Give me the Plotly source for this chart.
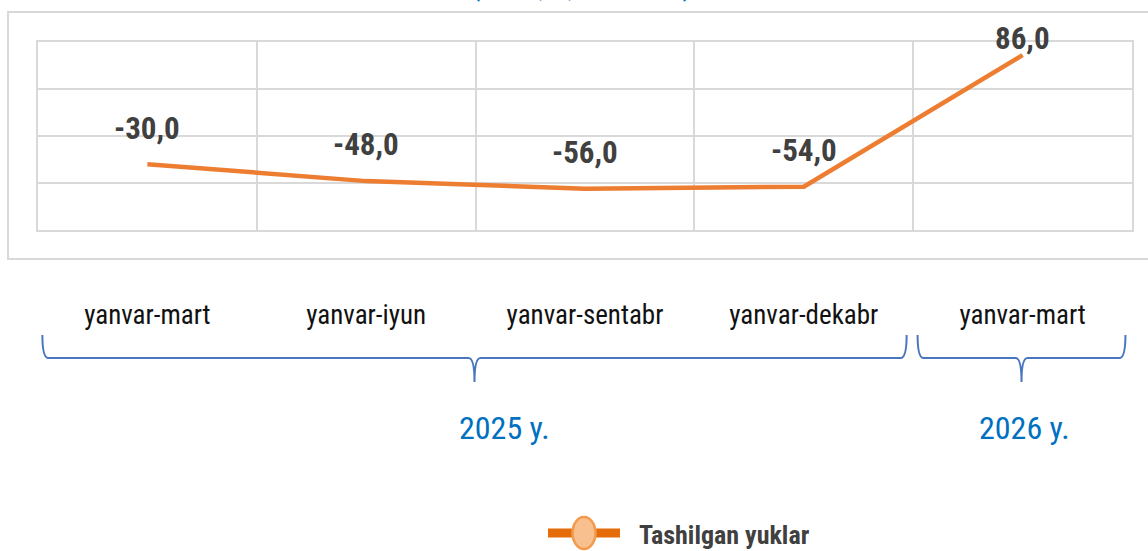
import plotly.graph_objects as go

# ---------------- data ----------------
categories = ["yanvar-mart", "yanvar-iyun", "yanvar-sentabr", "yanvar-dekabr", "yanvar-mart"]
values = [-30.0, -48.0, -56.0, -54.0, 86.0]
series_name = "Tashilgan yuklar"
groups = ["2025 y.", "2026 y."]
group_members = [[0, 1, 2, 3], [4]]
title_text = "(o'sish, %, mln tonna)"

# ---------------- styling ----------------
W, H = 1148, 551
L, R, T, B = 38, 16, 42, 321
PW, PH = W - L - R, H - T - B
FONT = "Roboto Condensed, Liberation Sans Narrow, DejaVu Sans Condensed, Roboto, sans-serif"
LINE_COLOR = "#ED7D31"
GRID = "#D9D9D9"
BRACE = "#4A76C0"
BLUE = "#0070C0"
label_yshift = [36, 37, 36, 36, 17]
group_label_x = [1.63, 4.01]  # in category-index units


def px2x(p):
    return (p - L) / PW


def px2y(p):
    return (H - B - p) / PH


def idx2x(i):
    return (i + 0.5) / len(categories)


x_idx = list(range(len(categories)))

fig = go.Figure()
fig.add_trace(go.Scatter(
    x=x_idx, y=values, mode="lines", name=series_name,
    line=dict(color=LINE_COLOR, width=4.5), showlegend=False,
    hoverinfo="y",
))

annotations = []
for i, v in enumerate(values):
    annotations.append(dict(
        x=i, y=v, xref="x", yref="y", text=f"{v:.1f}".replace(".", ","),
        showarrow=False, yshift=label_yshift[i], xanchor="center", yanchor="middle",
        font=dict(family=FONT, size=31, color="#404040", weight="bold"),
    ))

# partially visible title at the very top
annotations.append(dict(
    x=px2x(581), y=px2y(4), xref="paper", yref="paper", xanchor="center", yanchor="bottom",
    text=title_text, showarrow=False,
    font=dict(family=FONT, size=26, color=BLUE, weight="bold"),
))

shapes = []
# outer chart box
shapes.append(dict(type="rect", xref="paper", yref="paper",
                   x0=px2x(8), x1=px2x(1160), y0=px2y(259), y1=px2y(12),
                   line=dict(color=GRID, width=2), layer="below"))

# braces
y_top, y_mid, y_bot = px2y(335), px2y(358), px2y(382)
for gi, members in enumerate(group_members):
    a = idx2x(min(members) - 0.5 + 0.02)
    b = idx2x(max(members) + 0.5 - 0.03)
    c = (a + b) / 2
    r = 6 / PW
    path = (f"M{a},{y_top} Q{a},{y_mid} {a + r},{y_mid} L{c - r},{y_mid} "
            f"Q{c},{y_mid} {c},{y_bot} Q{c},{y_mid} {c + r},{y_mid} "
            f"L{b - r},{y_mid} Q{b},{y_mid} {b},{y_top}")
    shapes.append(dict(type="path", xref="paper", yref="paper", path=path,
                       line=dict(color=BRACE, width=2)))
    annotations.append(dict(
        x=idx2x(group_label_x[gi]), y=px2y(428), xref="paper", yref="paper",
        xanchor="center", yanchor="middle",
        text=groups[gi], showarrow=False,
        font=dict(family=FONT, size=32, color=BLUE),
    ))

# manual legend
shapes.append(dict(type="line", xref="paper", yref="paper",
                   x0=px2x(548), x1=px2x(620), y0=px2y(533), y1=px2y(533),
                   line=dict(color="#E46C0A", width=9)))
shapes.append(dict(type="circle", xref="paper", yref="paper",
                   x0=px2x(572.5), x1=px2x(595.5), y0=px2y(549), y1=px2y(517),
                   fillcolor="#F8C08F", line=dict(color="#F39A4C", width=2.5)))
annotations.append(dict(
    x=px2x(637), y=px2y(535), xref="paper", yref="paper", xanchor="left", yanchor="middle",
    text=series_name, showarrow=False,
    font=dict(family=FONT, size=26, color="#404040", weight="bold"),
))

fig.update_layout(
    width=W, height=H,
    margin=dict(l=L, r=R, t=T, b=B),
    paper_bgcolor="white", plot_bgcolor="white",
    showlegend=False,
    shapes=shapes, annotations=annotations,
    xaxis=dict(
        range=[-0.5, len(categories) - 0.5],
        tickmode="array", tickvals=x_idx, ticktext=categories,
        showgrid=False, zeroline=False,
        showline=True, mirror=True, linecolor=GRID, linewidth=2,
        ticks="", ticklabelstandoff=60,
        tickfont=dict(family=FONT, size=27, color="#111111"),
        minor=dict(tickvals=[i - 0.5 for i in range(len(categories) + 1)],
                   showgrid=True, gridcolor=GRID, gridwidth=2, ticks=""),
        fixedrange=True,
    ),
    yaxis=dict(
        range=[-100, 100], dtick=50, showticklabels=False,
        showgrid=True, gridcolor=GRID, gridwidth=2, zeroline=False,
        showline=True, mirror=True, linecolor=GRID, linewidth=2,
        ticks="", fixedrange=True,
    ),
)

fig.write_html("out.html")
